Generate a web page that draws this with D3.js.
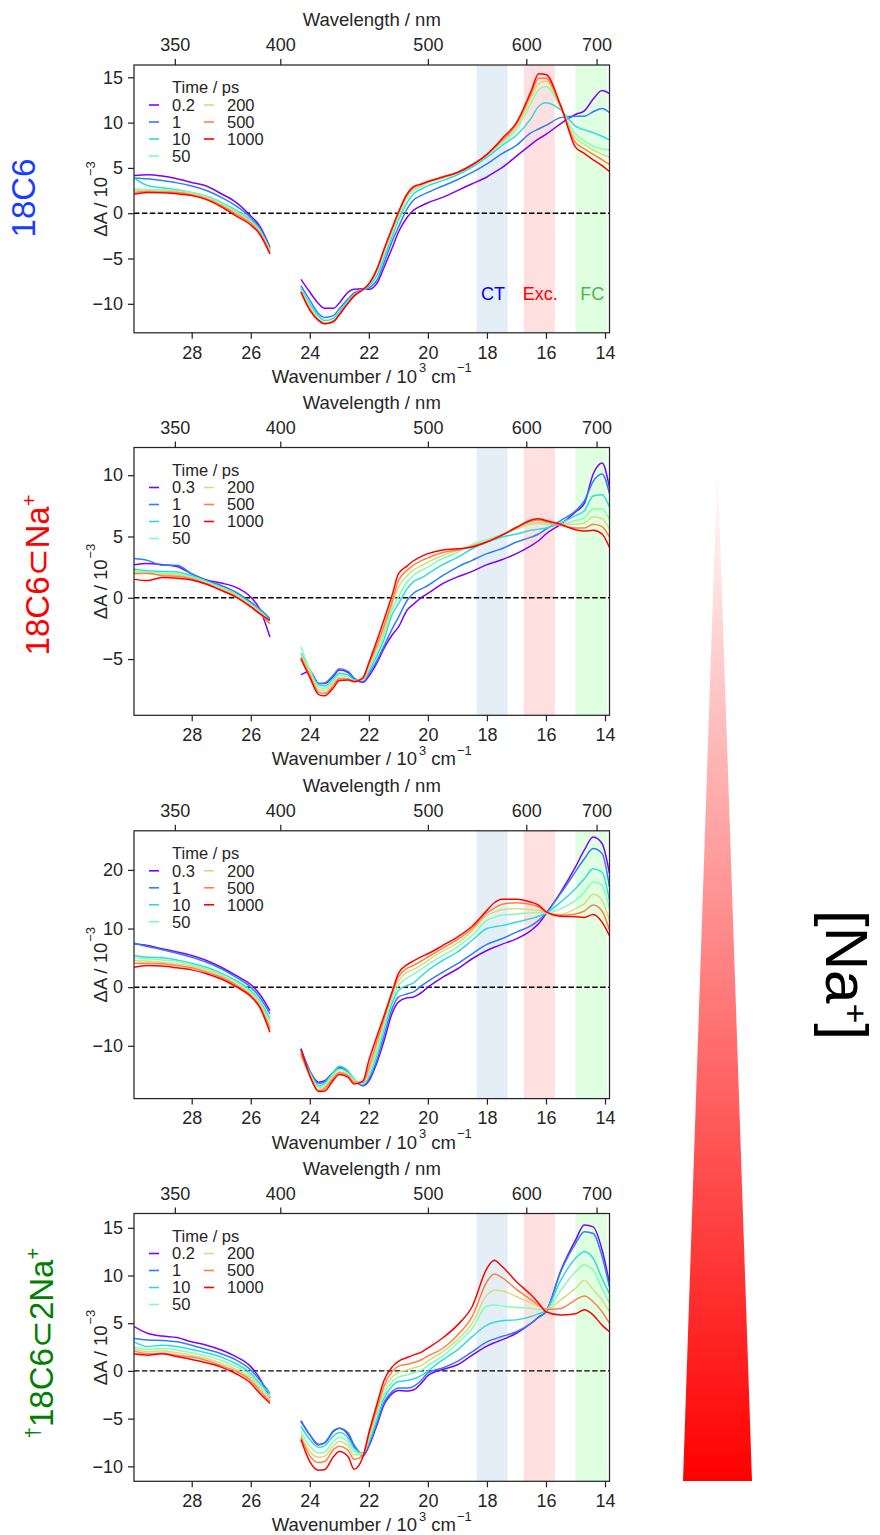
<!DOCTYPE html>
<html><head><meta charset="utf-8">
<script src="https://cdn.jsdelivr.net/npm/d3@7"></script>
<style>
body{margin:0;background:#fff}
svg{display:block}
text{font-family:"Liberation Sans",Arial,Helvetica,sans-serif}
</style>
</head><body>
<svg id="c" width="880" height="1535"></svg>
<script>
// ---------------- data ----------------
const timesA = ["0.2","1","10","50","200","500","1000"];
const timesB = ["0.3","1","10","50","200","500","1000"];
const seriesColors = ["#8000ff","#2a80f6","#2adddd","#80ffb4","#d4dd80","#ff8042","#ff0000"];

const wnUV  = [29.95, 29.5, 29.0, 28.5, 28.0, 27.5, 27.0, 26.5, 26.0, 25.7, 25.35];
const wnVis = [24.3, 24.0, 23.7, 23.5, 23.2, 23.0, 22.7, 22.5, 22.2, 22.0, 21.7, 21.5, 21.2, 21.0, 20.7, 20.5, 20.2, 20.0, 19.5, 19.0, 18.5, 18.0, 17.75, 17.5, 17.0, 16.5, 16.25, 16.0, 15.5, 15.0, 14.7, 14.4, 14.1, 13.85];

const wlTicks = [350, 400, 500, 600, 700];
const wnTicks = [28, 26, 24, 22, 20, 18, 16, 14];

const bandNames = ["CT", "Exc.", "FC"];
const bandFrom  = [18.35, 16.75, 15.0];
const bandTo    = [17.3, 15.7, 13.93];
const bandFill  = ["#1f77b4", "#ff0000", "#00ff00"];
const bandText  = ["#0000ff", "#ff0000", "#44bb44"];

// panel 1: 18C6
const p1UV = [
 [4.15, 4.25, 4.1, 3.8, 3.4, 3.0, 2.15, 1.2, -0.3, -1.4, -3.75],
 [3.9, 3.8, 3.6, 3.35, 3.0, 2.5, 1.75, 0.8, -0.5, -1.6, -3.9],
 [3.9, 3.05, 2.8, 2.6, 2.3, 1.9, 1.2, 0.35, -0.75, -1.8, -4.0],
 [2.7, 2.6, 2.6, 2.5, 2.25, 1.85, 1.1, 0.2, -0.9, -1.95, -4.1],
 [2.5, 2.45, 2.45, 2.4, 2.15, 1.75, 0.95, 0.05, -1.0, -2.05, -4.2],
 [2.3, 2.4, 2.35, 2.3, 2.05, 1.6, 0.85, -0.1, -1.1, -2.15, -4.35],
 [2.1, 2.3, 2.25, 2.15, 1.95, 1.5, 0.7, -0.3, -1.3, -2.3, -4.5]
];
const p1Vis = [
 [-7.3, -8.7, -10.0, -10.5, -10.5, -9.9, -8.7, -8.4, -8.35, -8.4, -7.6, -6.1, -3.75, -2.1, -0.45, 0.3, 0.85, 1.15, 1.75, 2.5, 3.25, 4.0, 4.5, 5.0, 6.3, 7.6, 8.2, 8.7, 9.9, 10.9, 11.3, 12.6, 13.55, 13.2],
 [-8.0, -9.6, -11.1, -11.5, -11.3, -10.55, -9.45, -8.8, -8.45, -8.25, -7.25, -5.6, -3.0, -1.55, 0.5, 1.4, 2.0, 2.3, 3.0, 3.7, 4.5, 5.45, 6.0, 6.55, 7.5, 8.9, 9.3, 9.7, 10.55, 10.7, 10.7, 11.2, 11.55, 11.1],
 [-8.35, -10.0, -11.35, -11.85, -11.6, -10.9, -9.6, -9.0, -8.5, -8.05, -6.7, -5.05, -2.45, -0.8, 1.2, 2.1, 2.7, 3.05, 3.6, 4.25, 5.1, 6.2, 6.8, 7.45, 8.6, 10.5, 11.8, 12.2, 11.4, 9.6, 9.2, 8.9, 8.5, 8.1],
 [-8.5, -10.25, -11.65, -12.1, -11.85, -11.1, -9.8, -9.1, -8.4, -7.9, -6.3, -4.6, -2.1, -0.45, 1.75, 2.5, 3.0, 3.35, 3.85, 4.45, 5.3, 6.4, 7.05, 7.75, 9.2, 12.2, 13.6, 14.0, 11.6, 8.75, 8.0, 7.4, 7.1, 7.0],
 [-8.6, -10.5, -11.75, -12.15, -11.9, -11.15, -9.85, -9.1, -8.42, -7.85, -6.1, -4.35, -1.8, -0.15, 1.95, 2.7, 3.1, 3.42, 3.92, 4.5, 5.33, 6.4, 7.15, 7.9, 9.5, 12.8, 14.3, 14.6, 11.6, 8.3, 7.6, 7.0, 6.5, 6.2],
 [-8.65, -10.6, -11.8, -12.2, -11.95, -11.2, -9.9, -9.12, -8.42, -7.82, -6.0, -4.2, -1.65, 0.0, 2.05, 2.8, 3.2, 3.47, 3.95, 4.5, 5.33, 6.45, 7.2, 8.0, 9.8, 13.2, 14.9, 14.9, 11.7, 7.8, 7.1, 6.5, 5.9, 5.4],
 [-8.7, -10.7, -11.85, -12.2, -11.95, -11.2, -9.9, -9.15, -8.42, -7.8, -5.95, -4.1, -1.55, 0.1, 2.15, 2.9, 3.25, 3.5, 4.0, 4.5, 5.35, 6.5, 7.3, 8.2, 10.0, 13.5, 15.4, 15.3, 11.9, 7.3, 6.6, 5.9, 5.26, 4.6]
];

// panel 2: 18C6⊂Na+
const p2UV = [
 [2.7, 2.8, 2.7, 2.55, 1.95, 1.45, 1.2, 0.85, 0.05, -0.9, -3.2],
 [3.2, 3.05, 2.65, 2.65, 1.95, 1.4, 1.0, 0.45, -0.35, -0.9, -1.7],
 [2.35, 2.2, 2.15, 2.1, 1.8, 1.35, 0.85, 0.3, -0.5, -1.05, -1.85],
 [2.2, 2.1, 2.0, 1.95, 1.7, 1.3, 0.8, 0.25, -0.55, -1.1, -1.95],
 [2.1, 1.95, 1.9, 1.85, 1.6, 1.2, 0.75, 0.2, -0.6, -1.15, -2.05],
 [1.95, 2.0, 1.8, 1.75, 1.55, 1.15, 0.65, 0.1, -0.7, -1.25, -2.15],
 [1.5, 1.4, 1.65, 1.6, 1.45, 1.1, 0.6, 0.05, -0.75, -1.3, -1.85]
];
const p2Vis = [
 [-6.3, -6.0, -7.0, -7.0, -6.4, -5.9, -6.1, -6.6, -6.9, -6.4, -5.2, -4.2, -3.0, -2.4, -1.0, -0.55, 0.05, 0.35, 1.15, 1.7, 2.15, 2.7, 2.9, 3.1, 3.6, 4.25, 4.65, 5.2, 6.0, 7.0, 7.7, 10.1, 11.0, 9.0],
 [-4.85, -5.9, -7.0, -6.95, -6.3, -5.8, -6.0, -6.55, -6.8, -6.2, -5.0, -4.0, -2.5, -1.6, -0.2, 0.35, 0.75, 1.0, 1.8, 2.5, 3.05, 3.6, 3.8, 4.0, 4.55, 4.95, 5.2, 5.6, 6.3, 7.1, 7.9, 9.5, 10.1, 8.5],
 [-4.5, -5.9, -7.1, -7.2, -6.6, -6.15, -6.3, -6.7, -6.75, -6.0, -4.6, -3.5, -1.3, -0.5, 0.75, 1.3, 1.65, 1.95, 2.7, 3.3, 4.0, 4.55, 4.75, 4.95, 5.2, 5.5, 5.6, 5.7, 6.1, 6.7, 7.1, 8.3, 8.4, 7.4],
 [-4.0, -5.9, -7.3, -7.4, -6.8, -6.3, -6.5, -6.75, -6.7, -5.8, -4.3, -3.1, -0.9, 0.05, 1.3, 1.8, 2.25, 2.5, 3.2, 3.7, 4.35, 4.75, 4.95, 5.15, 5.6, 6.0, 6.05, 6.0, 6.0, 6.3, 6.5, 7.25, 7.25, 6.4],
 [-4.6, -6.1, -7.5, -7.6, -6.95, -6.5, -6.6, -6.8, -6.65, -5.6, -4.0, -2.8, -0.5, 0.85, 1.8, 2.25, 2.65, 2.9, 3.45, 3.85, 4.25, 4.6, 4.85, 5.1, 5.65, 6.1, 6.15, 6.1, 6.0, 6.0, 6.1, 6.6, 6.45, 5.6],
 [-4.9, -6.3, -7.7, -7.8, -7.15, -6.6, -6.65, -6.8, -6.6, -5.45, -3.7, -2.4, -0.2, 1.4, 2.25, 2.65, 3.05, 3.25, 3.7, 3.9, 4.2, 4.6, 4.85, 5.1, 5.7, 6.25, 6.35, 6.2, 5.9, 5.7, 5.7, 6.0, 5.8, 4.95],
 [-5.0, -6.5, -7.9, -8.0, -7.35, -6.75, -6.7, -6.85, -6.5, -5.3, -3.3, -1.9, 0.3, 1.95, 2.6, 3.0, 3.4, 3.6, 3.9, 4.0, 4.15, 4.55, 4.8, 5.1, 5.75, 6.35, 6.45, 6.3, 6.0, 5.55, 5.45, 5.5, 5.2, 4.1]
];

// panel 3
const p3UV = [
 [7.4, 7.1, 6.55, 6.0, 5.4, 4.55, 3.4, 2.0, 0.45, -1.15, -4.0],
 [7.5, 6.95, 6.4, 5.8, 5.1, 4.25, 3.15, 1.7, 0.0, -1.7, -4.55],
 [5.4, 5.1, 5.0, 4.65, 4.1, 3.4, 2.4, 1.15, -0.55, -2.3, -5.4],
 [5.0, 4.85, 4.65, 4.4, 3.85, 3.15, 2.15, 0.85, -0.85, -2.55, -6.0],
 [4.55, 4.45, 4.25, 4.0, 3.6, 2.85, 1.95, 0.55, -1.15, -2.85, -6.55],
 [4.1, 4.1, 4.0, 3.7, 3.3, 2.55, 1.7, 0.35, -1.4, -3.15, -7.1],
 [3.4, 3.7, 3.6, 3.3, 2.95, 2.3, 1.4, 0.1, -1.6, -3.4, -7.7]
];
const p3Vis = [
 [-10.5, -14.25, -16.2, -15.95, -14.5, -13.7, -14.5, -15.8, -16.8, -16.0, -12.5, -9.4, -4.3, -2.55, -1.8, -1.7, -0.85, 0.0, 1.7, 3.1, 4.85, 6.25, 6.8, 7.3, 8.25, 9.7, 10.8, 12.5, 16.2, 20.5, 23.4, 25.6, 24.5, 19.4],
 [-10.8, -14.4, -16.4, -16.1, -14.5, -13.8, -14.5, -15.8, -16.8, -15.7, -12.0, -8.55, -3.5, -1.7, -1.15, -0.85, 0.3, 1.0, 2.55, 4.0, 5.7, 7.3, 7.8, 8.25, 9.4, 10.5, 11.4, 12.65, 16.0, 19.7, 21.9, 23.65, 22.8, 17.1],
 [-11.4, -14.5, -16.8, -16.4, -14.5, -13.5, -14.3, -15.65, -16.5, -15.1, -11.1, -7.5, -2.55, -0.55, 0.3, 0.7, 2.0, 2.85, 4.55, 6.0, 8.0, 10.0, 10.3, 10.5, 11.1, 11.7, 12.1, 12.65, 14.5, 16.8, 18.5, 20.2, 19.6, 14.8],
 [-11.7, -14.8, -17.1, -16.65, -14.9, -14.0, -14.7, -15.8, -16.4, -14.8, -10.5, -6.8, -1.7, 0.3, 1.6, 2.15, 3.15, 3.85, 5.4, 6.85, 8.85, 11.4, 11.9, 12.25, 12.5, 12.7, 12.75, 12.65, 13.4, 14.8, 16.2, 17.95, 17.4, 13.4],
 [-11.7, -15.0, -17.4, -17.0, -15.25, -14.4, -14.95, -16.05, -16.3, -14.4, -9.7, -6.15, -1.15, 1.0, 2.55, 3.0, 3.85, 4.55, 6.15, 7.5, 9.6, 12.25, 12.8, 13.2, 13.4, 13.2, 13.1, 12.65, 12.4, 13.4, 14.25, 15.85, 14.8, 11.4],
 [-11.4, -15.1, -17.7, -17.3, -15.5, -14.6, -15.1, -16.2, -16.2, -13.7, -8.85, -5.6, -0.85, 1.7, 3.25, 3.7, 4.55, 5.15, 6.65, 8.1, 10.0, 12.65, 13.5, 14.1, 14.4, 14.1, 13.7, 12.75, 12.25, 12.5, 13.0, 14.0, 13.0, 9.7],
 [-10.5, -15.1, -17.8, -17.7, -15.85, -14.9, -15.4, -16.5, -16.0, -12.5, -8.0, -5.1, -0.6, 2.3, 3.85, 4.45, 5.25, 5.7, 7.1, 8.55, 10.4, 13.1, 14.4, 15.0, 15.0, 14.5, 14.0, 12.9, 12.1, 12.0, 11.9, 12.4, 11.1, 8.8]
];

// panel 4: †18C6⊂2Na+
const p4UV = [
 [4.65, 3.95, 3.65, 3.5, 3.05, 2.7, 2.2, 1.5, 0.45, -0.75, -2.85],
 [3.4, 3.25, 3.2, 3.05, 2.7, 2.25, 1.8, 1.15, 0.1, -0.95, -2.35],
 [3.05, 2.55, 2.7, 2.55, 2.25, 1.9, 1.45, 0.75, -0.25, -1.3, -2.4],
 [2.55, 2.25, 2.35, 2.2, 1.9, 1.55, 1.1, 0.45, -0.5, -1.55, -2.7],
 [2.35, 2.0, 2.1, 1.9, 1.65, 1.3, 0.8, 0.15, -0.75, -1.8, -2.95],
 [2.1, 1.8, 1.85, 1.65, 1.45, 1.1, 0.55, -0.05, -1.0, -2.05, -3.2],
 [1.8, 1.65, 1.8, 1.5, 1.2, 0.85, 0.4, -0.3, -1.3, -2.35, -3.4]
];
const p4Vis = [
 [-5.2, -6.7, -7.75, -7.55, -6.35, -6.0, -6.7, -7.9, -8.9, -7.9, -5.45, -3.65, -2.35, -2.05, -2.1, -2.0, -1.2, -0.5, 0.15, 0.65, 1.65, 2.6, 2.95, 3.25, 3.95, 5.0, 5.65, 6.2, 10.5, 13.7, 15.3, 15.1, 12.7, 9.2],
 [-5.3, -6.7, -7.7, -7.55, -6.25, -6.0, -6.5, -7.75, -8.7, -7.75, -5.2, -3.4, -2.15, -1.8, -1.8, -1.65, -0.9, -0.2, 0.3, 1.0, 2.0, 3.05, 3.35, 3.6, 4.1, 5.0, 5.6, 6.2, 10.4, 13.35, 14.6, 14.4, 12.0, 8.8],
 [-5.8, -7.2, -8.0, -7.85, -6.8, -6.45, -7.05, -8.1, -8.6, -7.5, -4.8, -2.95, -1.55, -1.1, -1.0, -0.85, -0.45, 0.0, 1.15, 2.2, 3.6, 4.8, 5.1, 5.25, 5.35, 5.7, 6.0, 6.3, 9.5, 11.8, 12.5, 11.8, 9.7, 8.1],
 [-6.35, -7.9, -8.6, -8.5, -7.4, -6.95, -7.5, -8.45, -8.7, -7.2, -4.35, -2.5, -1.1, -0.65, -0.4, -0.2, 0.1, 0.55, 1.55, 2.9, 4.45, 6.8, 6.9, 6.8, 6.65, 6.55, 6.45, 6.4, 8.45, 10.4, 11.1, 10.55, 8.65, 7.1],
 [-6.7, -8.45, -9.05, -8.95, -7.85, -7.4, -7.9, -8.8, -8.8, -6.95, -4.0, -2.05, -0.6, -0.15, 0.1, 0.3, 0.6, 1.05, 2.0, 3.25, 5.0, 7.95, 8.45, 8.4, 7.8, 7.1, 6.8, 6.4, 7.45, 8.65, 9.5, 8.5, 7.45, 6.2],
 [-6.95, -8.9, -9.6, -9.5, -8.25, -7.9, -8.35, -9.25, -8.9, -6.7, -3.65, -1.65, -0.05, 0.5, 0.7, 0.85, 1.2, 1.55, 2.35, 3.75, 5.7, 9.35, 10.15, 9.8, 8.55, 7.45, 6.9, 6.45, 6.55, 7.45, 7.85, 7.25, 6.2, 5.0],
 [-7.2, -9.5, -10.4, -10.35, -9.0, -8.45, -9.0, -10.3, -9.0, -6.5, -3.2, -1.1, 0.45, 1.0, 1.4, 1.65, 2.0, 2.4, 3.45, 4.8, 6.75, 10.75, 11.6, 11.0, 9.35, 7.95, 7.1, 6.2, 5.85, 6.0, 6.4, 5.85, 4.8, 4.1]
];

const yDomains = [[-13.2, 16.36], [-9.59, 12.26], [-19.0, 26.67], [-11.57, 16.5]];
const yTickVals = [[-10, -5, 0, 5, 10, 15], [-5, 0, 5, 10], [-10, 0, 10, 20], [-10, -5, 0, 5, 10, 15]];

// ---------------- layout ----------------
const plotL = 134, plotR = 609.5;
const tops = [65, 447.5, 830.8, 1213.5];
const ph = 267.8;
const ink = "#262626";

const panels = [
  {uv: p1UV, vis: p1Vis, times: timesA, bands: true},
  {uv: p2UV, vis: p2Vis, times: timesB, bands: false},
  {uv: p3UV, vis: p3Vis, times: timesB, bands: false},
  {uv: p4UV, vis: p4Vis, times: timesA, bands: false}
];

const svg = d3.select("#c");
svg.append("rect").attr("width", 880).attr("height", 1535).attr("fill", "#fff");
const defs = svg.append("defs");

const x = d3.scaleLinear().domain([29.955, 13.848]).range([plotL, plotR]);
const fmtMinus = d => d < 0 ? "\u2212" + Math.abs(d) : String(d);

panels.forEach((p, i) => {
  const top = tops[i];
  const y = d3.scaleLinear().domain(yDomains[i]).range([top + ph, top]);
  const g = svg.append("g");

  defs.append("clipPath").attr("id", "clip" + i)
    .append("rect").attr("x", plotL).attr("y", top).attr("width", plotR - plotL).attr("height", ph);

  // shaded bands
  bandFrom.forEach((b, j) => {
    g.append("rect")
      .attr("x", x(bandFrom[j])).attr("width", x(bandTo[j]) - x(bandFrom[j]))
      .attr("y", top).attr("height", ph)
      .attr("fill", bandFill[j]).attr("fill-opacity", 0.12);
  });

  const pg = g.append("g").attr("clip-path", "url(#clip" + i + ")");
  // zero line
  pg.append("line").attr("x1", plotL).attr("x2", plotR).attr("y1", y(0)).attr("y2", y(0))
    .attr("stroke", "#000").attr("stroke-width", 1.4).attr("stroke-dasharray", "5.5,2.4");

  const line = d3.line().x(d => x(d[0])).y(d => y(d[1])).curve(d3.curveMonotoneX);
  seriesColors.forEach((c, k) => {
    const uv = wnUV.map((w, n) => [w, p.uv[k][n]]);
    const vis = wnVis.map((w, n) => [w, p.vis[k][n]]);
    [uv, vis].forEach(seg => {
      pg.append("path").attr("d", line(seg)).attr("fill", "none")
        .attr("stroke", c).attr("stroke-width", 1.5).attr("stroke-linejoin", "round");
    });
  });

  // band labels
  if (p.bands) {
    bandNames.forEach((nm, j) => {
      g.append("text").attr("x", (x(bandFrom[j]) + x(bandTo[j])) / 2 + 1).attr("y", top + 234.5)
        .attr("text-anchor", "middle").attr("font-size", 18).attr("fill", bandText[j]).text(nm);
    });
  }

  // axes
  const styleAxis = sel => {
    sel.select(".domain").remove();
    sel.selectAll(".tick line").attr("stroke", ink).attr("stroke-width", 1.25);
    sel.selectAll(".tick text").attr("fill", ink).attr("font-size", 18)
      .attr("font-family", "Liberation Sans, Arial, sans-serif");
  };
  g.append("g").attr("transform", `translate(0,${top + ph})`)
    .call(d3.axisBottom(x).tickValues(wnTicks).tickSize(6).tickPadding(7).tickFormat(d3.format("d")))
    .call(styleAxis);
  g.append("g").attr("transform", `translate(0,${top})`)
    .call(d3.axisTop(x).tickValues(wlTicks.map(n => 1e4 / n)).tickSize(6).tickPadding(8)
      .tickFormat(d => String(Math.round(1e4 / d))))
    .call(styleAxis);
  g.append("g").attr("transform", `translate(${plotL},0)`)
    .call(d3.axisLeft(y).tickValues(yTickVals[i]).tickSize(6).tickPadding(5).tickFormat(fmtMinus))
    .call(styleAxis);

  g.append("rect").attr("x", plotL).attr("y", top).attr("width", plotR - plotL).attr("height", ph)
    .attr("fill", "none").attr("stroke", ink).attr("stroke-width", 1.25);

  // axis labels
  const cx = (plotL + plotR) / 2;
  const xl = g.append("text").attr("x", cx).attr("y", top + ph + 50).attr("text-anchor", "middle")
    .attr("font-size", 18.5).attr("fill", ink);
  xl.append("tspan").text("Wavenumber / 10");
  xl.append("tspan").attr("font-size", 13).attr("dy", -10.5).attr("dx", 2).text("3");
  xl.append("tspan").attr("dy", 10.5).text(" cm");
  xl.append("tspan").attr("font-size", 13).attr("dy", -10.5).attr("dx", 1).text("\u22121");

  g.append("text").attr("x", cx).attr("y", top - 39).attr("text-anchor", "middle")
    .attr("font-size", 18.5).attr("fill", ink).text("Wavelength / nm");

  const yl = g.append("text").attr("transform", `translate(106.5,${top + ph / 2}) rotate(-90)`)
    .attr("text-anchor", "middle").attr("font-size", 18.5).attr("fill", ink);
  yl.append("tspan").text("\u0394A / 10");
  yl.append("tspan").attr("font-size", 13).attr("dy", -12).attr("dx", 1).text("\u22123");

  // legend
  const lg = g.append("g");
  lg.append("text").attr("x", 172).attr("y", top + 22.3 + 5.9).attr("font-size", 16.5).attr("fill", ink).text("Time / ps");
  p.times.forEach((t, k) => {
    const col = k < 4 ? 0 : 1;
    const row = k < 4 ? k : k - 4;
    const ly = top + 40 + row * 17;
    const lx = col === 0 ? 149 : 204;
    lg.append("line").attr("x1", lx).attr("x2", lx + 10).attr("y1", ly).attr("y2", ly)
      .attr("stroke", seriesColors[k]).attr("stroke-width", 1.6);
    lg.append("text").attr("x", lx + 23).attr("y", ly + 5.9).attr("font-size", 16.5).attr("fill", ink).text(t);
  });
});

// side labels (rotated, read bottom-to-top)
function sideLabel(cx, cy, color, parts) {
  const t = svg.append("text").attr("transform", `translate(${cx},${cy}) rotate(-90)`)
    .attr("text-anchor", "middle").attr("font-size", 33).attr("fill", color);
  let raised = false;
  parts.forEach(([s, sup]) => {
    if (sup) { t.append("tspan").attr("font-size", 20).attr("dy", raised ? 0 : -13).text(s); raised = true; }
    else { t.append("tspan").attr("dy", raised ? 13 : 0).text(s); raised = false; }
  });
}
sideLabel(35, 198, "#1a3cff", [["18C6", false]]);
sideLabel(48.5, 575, "#ff0000", [["18C6\u2282Na", false], ["+", true]]);
sideLabel(53, 1343, "#008000", [["\u2020", true], ["18C6\u22822Na", false], ["+", true]]);

// concentration wedge
const grad = defs.append("linearGradient").attr("id", "naGrad").attr("x1", 0).attr("y1", 0).attr("x2", 0).attr("y2", 1);
grad.append("stop").attr("offset", "0%").attr("stop-color", "#ff0000").attr("stop-opacity", 0);
grad.append("stop").attr("offset", "100%").attr("stop-color", "#ff0000").attr("stop-opacity", 1);
svg.append("path").attr("d", "M717.5,462 L752,1481 L683,1481 Z").attr("fill", "url(#naGrad)");

const na = svg.append("text").attr("transform", "translate(826,975) rotate(90)")
  .attr("text-anchor", "middle").attr("font-size", 60).attr("fill", "#000");
na.append("tspan").text("[Na");
na.append("tspan").attr("font-size", 34).attr("dy", -18).text("+");
na.append("tspan").attr("dy", 18).text("]");
</script>
</body></html>
